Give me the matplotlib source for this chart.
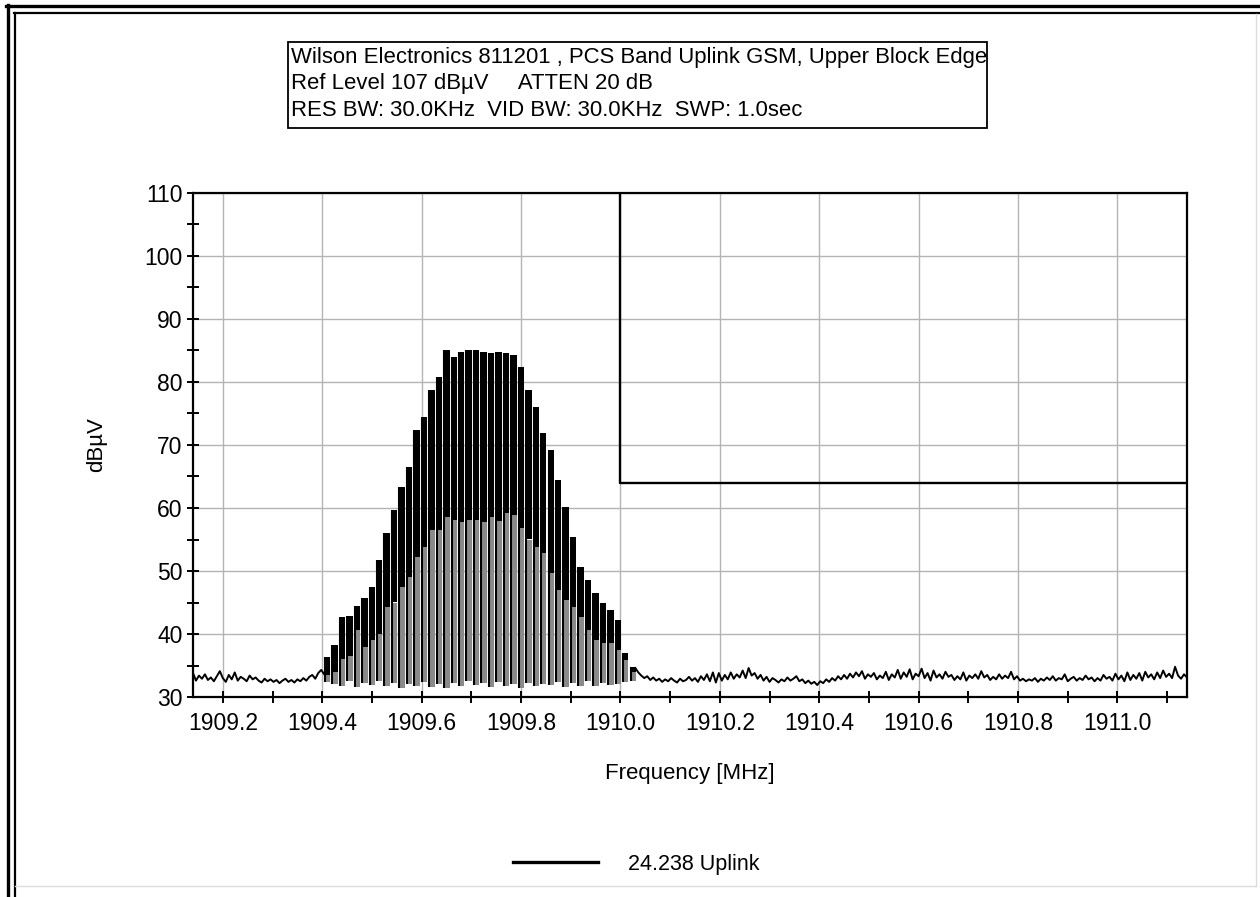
import numpy as np
import matplotlib
matplotlib.use("Agg")
import matplotlib.pyplot as plt
import matplotlib.ticker as ticker
from matplotlib.lines import Line2D
from matplotlib.patches import Rectangle

plt.rcParams["font.family"] = ["Liberation Sans", "DejaVu Sans"]

# Bandeau d'information
header_lines = [
    "Wilson Electronics 811201 , PCS Band Uplink GSM, Upper Block Edge",
    "Ref Level 107 dB\u00b5V     ATTEN 20 dB",
    "RES BW: 30.0KHz  VID BW: 30.0KHz  SWP: 1.0sec",
]
legend_label = "24.238 Uplink"

# Plancher de bruit, gauche et droite du signal (dBuV)
noise_left = [
    33.8, 32.6, 33.4, 32.9, 33.6, 32.7, 33.1, 32.5, 33.3, 34.1,
    33.0, 32.4, 33.5, 32.8, 33.9, 32.6, 33.2, 32.9, 32.5, 33.4,
    32.8, 33.1, 32.6, 32.3, 32.9, 32.5, 32.8, 32.4, 32.7, 32.2,
    32.6, 32.9, 32.4, 32.7, 32.3, 32.8, 32.5, 33.0, 32.6, 33.2,
    33.5, 32.9, 33.8, 34.3, 33.6, 34.8,
]
noise_right = [
    34.6, 33.9, 33.4, 33.0, 33.3, 32.7, 33.1, 32.6, 32.9, 32.4,
    32.8, 32.5, 33.0, 32.6, 32.3, 32.9, 32.5, 32.7, 33.2, 32.6,
    33.0, 32.4, 33.3, 32.7, 33.6, 32.5, 33.9, 32.3, 33.8, 32.6,
    33.5, 32.8, 33.9, 32.9, 33.6, 33.1, 34.2, 33.0, 34.6, 33.4,
    33.8, 32.9, 33.5, 32.6, 33.2, 32.4, 33.0, 32.7, 32.3, 32.8,
    32.5, 33.1, 32.6, 32.9, 33.3, 32.5, 32.8, 32.2, 32.6, 32.1,
    32.4, 31.9, 32.5, 32.2, 32.8, 32.4, 33.0, 32.6, 33.3, 32.8,
    33.5, 32.9, 33.7, 33.1, 33.9, 33.3, 34.1, 32.9, 33.6, 33.2,
    33.8, 32.8, 33.4, 33.0, 34.0, 32.7, 33.6, 33.1, 34.3, 32.9,
    33.9, 33.2, 34.4, 32.8, 33.7, 33.3, 34.5, 33.0, 33.8, 32.6,
    34.2, 33.1, 33.6, 32.9, 34.0, 33.2, 33.5, 32.7, 33.3, 32.8,
    33.9, 32.6, 33.4, 33.0, 33.6, 32.9, 34.1, 33.1, 33.5, 32.7,
    33.2, 32.8, 33.6, 32.9, 33.4, 33.0, 34.0, 32.8, 33.3, 32.6,
    32.9, 32.5, 32.8, 32.6, 33.0, 32.4, 32.9, 32.6, 33.1, 32.7,
    33.3, 32.6, 33.0, 32.8, 33.6, 32.5, 32.9, 33.2, 32.6, 33.0,
    32.7, 33.4, 32.8, 33.1, 32.5, 33.0, 32.6, 33.5, 32.9, 33.2,
    32.6, 33.7, 32.8, 33.4, 32.5, 33.9, 32.7, 33.5, 32.9, 33.8,
    32.6, 34.0, 33.1, 33.6, 32.8, 33.9, 33.0, 34.2, 33.2, 33.7,
    33.0, 34.8, 33.4, 32.9, 33.6, 33.1,
]

# Salves GSM : fréquence, crête, niveau médian, plancher
burst_freq = [
    1909.410, 1909.425, 1909.440, 1909.455, 1909.470, 1909.485, 1909.500,
    1909.515, 1909.530, 1909.545, 1909.560, 1909.575, 1909.590, 1909.605,
    1909.620, 1909.635, 1909.650, 1909.665, 1909.680, 1909.695, 1909.710,
    1909.725, 1909.740, 1909.755, 1909.770, 1909.785, 1909.800, 1909.815,
    1909.830, 1909.845, 1909.860, 1909.875, 1909.890, 1909.905, 1909.920,
    1909.935, 1909.950, 1909.965, 1909.980, 1909.995, 1910.010, 1910.025,
]
burst_top = [
    36.3, 38.3, 42.7, 42.8, 44.5, 45.7, 47.5, 51.7, 56.0, 59.7, 63.3,
    66.5, 72.4, 74.5, 78.7, 80.8, 85.1, 84.0, 84.7, 85.0, 85.0, 84.8,
    84.6, 84.8, 84.6, 84.3, 82.4, 78.7, 76.0, 71.9, 69.2, 64.4, 60.2,
    55.4, 50.6, 48.6, 46.5, 44.9, 43.8, 42.2, 37.0, 34.8,
]
burst_mid = [
    33.5, 34.0, 36.0, 36.5, 40.6, 38.0, 39.0, 40.0, 44.3, 45.0, 47.5,
    49.0, 52.2, 53.8, 56.5, 56.5, 58.6, 58.1, 57.8, 58.1, 58.1, 57.8,
    58.6, 58.0, 59.2, 58.9, 56.8, 55.0, 53.8, 52.8, 49.7, 47.0, 45.4,
    44.3, 42.7, 40.6, 39.0, 38.6, 38.6, 37.5, 35.9, 34.0,
]
burst_floor = [
    32.4, 32.0, 31.8, 32.5, 31.6, 32.2, 31.9, 32.6, 31.7, 32.3, 31.5,
    32.1, 31.8, 32.4, 31.6, 32.0, 31.4, 32.3, 31.7, 32.5, 31.9, 32.2,
    31.6, 32.4, 31.8, 32.1, 31.5, 32.3, 31.7, 32.0, 31.9, 32.4, 31.6,
    32.2, 31.8, 32.5, 31.7, 32.3, 31.9, 32.1, 32.4, 32.6,
]

# Gabarit de limite
limit_freq = [1910.0, 1910.0, 1911.14]
limit_level = [110, 64, 64]

# Initialisation
W, H = 1260, 897
fig = plt.figure(figsize=(W / 100, H / 100), dpi=100, facecolor="white")
ax = fig.add_axes([193 / W, 1 - 697 / H, 994 / W, 504 / H])

# Trace
f_left = np.linspace(1909.14, 1909.41, len(noise_left))
f_right = np.linspace(1910.03, 1911.14, len(noise_right))
ax.plot(f_left, noise_left, color="black", lw=1.4, zorder=3)
ax.plot(f_right, noise_right, color="black", lw=1.4, zorder=3)

top = np.array(burst_top)
mid = np.array(burst_mid)
low = np.array(burst_floor)
bw = 0.0124
ax.bar(burst_freq, mid - low, bottom=low, width=bw, color="#8a8a8a", zorder=3)
ax.bar(burst_freq, top - mid, bottom=mid, width=bw, color="black", zorder=3)
ax.vlines(np.array(burst_freq) - bw / 2 + 0.0015, low, top, color="black", lw=1.5, zorder=3)

ax.plot(limit_freq, limit_level, color="black", lw=1.7, zorder=4)

# Axes
ax.set_xlim(1909.14, 1911.14)
ax.set_ylim(30, 110)
ax.xaxis.set_major_locator(ticker.FixedLocator([1909.2, 1909.4, 1909.6, 1909.8, 1910.0,
                                                1910.2, 1910.4, 1910.6, 1910.8, 1911.0]))
ax.xaxis.set_major_formatter(ticker.FormatStrFormatter("%.1f"))
ax.xaxis.set_minor_locator(ticker.MultipleLocator(0.1))
ax.yaxis.set_major_locator(ticker.MultipleLocator(10))
ax.yaxis.set_minor_locator(ticker.MultipleLocator(5))
ax.tick_params(which="both", direction="inout", length=9, width=1.4, labelsize=16.5, pad=3)
ax.tick_params(axis="x", pad=6)
ax.grid(True, which="major", color="#b4b4b4", lw=1.0)
ax.set_axisbelow(True)
for s in ax.spines.values():
    s.set_linewidth(1.6)

fig.text(690 / W, 1 - 773 / H, "Frequency [MHz]", ha="center", va="center", fontsize=16)
fig.text(97 / W, 1 - 445 / H, "dB\u00b5V", ha="center", va="center", rotation=90, fontsize=16)

# Bandeau
fig.add_artist(Rectangle((288 / W, 1 - 128 / H), 699 / W, 86 / H, transform=fig.transFigure,
                         fill=False, edgecolor="black", lw=1.3))
for i, line in enumerate(header_lines):
    fig.text(291 / W, 1 - (57 + 27 * i) / H, line, ha="left", va="center", fontsize=15.9)

# Légende
fig.add_artist(Line2D([513 / W, 598 / W], [1 - 862 / H, 1 - 862 / H], transform=fig.transFigure,
                      color="black", lw=2.4))
fig.text(628 / W, 1 - 864 / H, legend_label, ha="left", va="center", fontsize=15.5)

# Cadre
def fline(x0, y0, x1, y1, **kw):
    fig.add_artist(Line2D([x0 / W, x1 / W], [1 - y0 / H, 1 - y1 / H], transform=fig.transFigure, **kw))

fline(6, 6.5, W, 6.5, color="black", lw=2.4)
fline(7.5, 5, 7.5, H, color="black", lw=2.4)
fline(14, 13.5, W, 13.5, color="black", lw=1.6)
fline(15, 13, 15, H, color="black", lw=1.6)
fline(1256, 14, 1256, 886, color="#dcdcdc", lw=1.0)
fline(15, 886, 1256, 886, color="#dcdcdc", lw=1.0)

fig.savefig("out.png", dpi=100, facecolor="white")
